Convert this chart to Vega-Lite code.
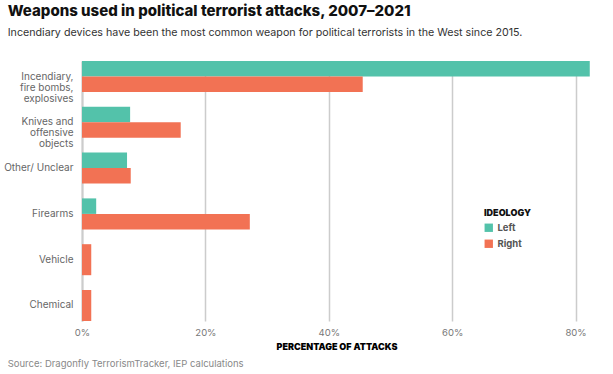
{
  "$schema": "https://vega.github.io/schema/vega-lite/v6.json",
  "padding": {"left": 3, "top": 4, "right": 5, "bottom": 5},
  "background": "white",
  "title": {
    "text": "Weapons used in political terrorist attacks, 2007–2021",
    "subtitle": "Incendiary devices have been the most common weapon for political terrorists in the West since 2015.",
    "anchor": "start",
    "frame": "bounds",
    "dx": 4,
    "font": "Inter",
    "fontSize": 15,
    "fontWeight": 800,
    "color": "#111111",
    "subtitleFont": "Inter",
    "subtitleFontSize": 10.7,
    "subtitleColor": "#333333",
    "subtitlePadding": 9,
    "offset": 23
  },
  "config": {
    "view": {"stroke": null},
    "font": "Inter"
  },
  "datasets": {
    "weapons": [
      {"weapon": "Incendiary,|fire bombs,|explosives", "ideology": "Left", "pct": 82.3},
      {"weapon": "Incendiary,|fire bombs,|explosives", "ideology": "Right", "pct": 45.5},
      {"weapon": "Knives and|offensive|objects", "ideology": "Left", "pct": 7.8},
      {"weapon": "Knives and|offensive|objects", "ideology": "Right", "pct": 16.0},
      {"weapon": "Other/ Unclear", "ideology": "Left", "pct": 7.3},
      {"weapon": "Other/ Unclear", "ideology": "Right", "pct": 7.9},
      {"weapon": "Firearms", "ideology": "Left", "pct": 2.3},
      {"weapon": "Firearms", "ideology": "Right", "pct": 27.2},
      {"weapon": "Vehicle", "ideology": "Right", "pct": 1.5},
      {"weapon": "Chemical", "ideology": "Right", "pct": 1.5}
    ]
  },
  "vconcat": [
    {
      "width": 509,
      "height": 260,
      "title": {
        "text": "Source: Dragonfly TerrorismTracker, IEP calculations",
        "orient": "bottom",
        "anchor": "start",
        "frame": "bounds",
        "dx": 4,
        "font": "Inter",
        "fontSize": 9.5,
        "fontWeight": "normal",
        "color": "#888888",
        "offset": 7
      },
      "data": {"name": "weapons"},
      "resolve": {"scale": {"yOffset": "independent"}},
      "layer": [
        {
          "transform": [{"filter": "datum.weapon != 'Vehicle' && datum.weapon != 'Chemical'"}],
          "mark": {"type": "bar"},
          "encoding": {
            "y": {
              "field": "weapon",
              "type": "nominal",
              "sort": ["Incendiary,|fire bombs,|explosives", "Knives and|offensive|objects", "Other/ Unclear", "Firearms", "Vehicle", "Chemical"],
              "scale": {"paddingInner": 0.323, "paddingOuter": 0},
              "axis": {
                "title": null,
                "labelExpr": "split(datum.label, '|')",
                "labelFontSize": 10,
                "labelColor": "#666666",
                "labelLineHeight": 11,
                "labelLimit": 0,
                "ticks": false,
                "labelPadding": 9,
                "domainColor": "#cccccc",
                "domainWidth": 2
              }
            },
            "yOffset": {"field": "ideology", "type": "nominal", "sort": ["Left", "Right"]},
            "x": {
              "field": "pct",
              "type": "quantitative",
              "scale": {"domain": [0, 82.5], "nice": false},
              "axis": {
                "values": [0, 20, 40, 60, 80],
                "labelExpr": "datum.value + '%'",
                "labelFlush": false,
                "title": "PERCENTAGE OF ATTACKS",
                "titleFontWeight": 900,
                "titleFontSize": 9,
                "titleColor": "#000000",
                "ticks": false,
                "domain": false,
                "gridColor": "#cccccc",
                "gridWidth": 1.5,
                "labelColor": "#777777",
                "labelFontSize": 9.5,
                "labelPadding": 6,
                "titlePadding": 6
              }
            },
            "color": {
              "field": "ideology",
              "type": "nominal",
              "scale": {"domain": ["Left", "Right"], "range": ["#53c2aa", "#f27254"]},
              "legend": {
                "title": "IDEOLOGY",
                "orient": "none",
                "legendX": 402,
                "legendY": 148,
                "symbolType": "square",
                "symbolSize": 70,
                "symbolStrokeWidth": 0,
                "titleFontSize": 9,
                "titleFontWeight": 900,
                "titleColor": "#111111",
                "labelFontSize": 9.5,
                "labelFontWeight": "bold",
                "labelColor": "#555555",
                "rowPadding": 5
              }
            }
          }
        },
        {
          "transform": [{"filter": "datum.weapon == 'Vehicle' || datum.weapon == 'Chemical'"}],
          "mark": {"type": "bar"},
          "encoding": {
            "y": {"field": "weapon", "type": "nominal", "sort": ["Incendiary,|fire bombs,|explosives", "Knives and|offensive|objects", "Other/ Unclear", "Firearms", "Vehicle", "Chemical"]},
            "yOffset": {"datum": "all", "type": "nominal", "scale": {"paddingInner": 0, "paddingOuter": 0}},
            "x": {"field": "pct", "type": "quantitative"},
            "color": {"field": "ideology", "type": "nominal"}
          }
        }
      ]
    }
  ]
}
